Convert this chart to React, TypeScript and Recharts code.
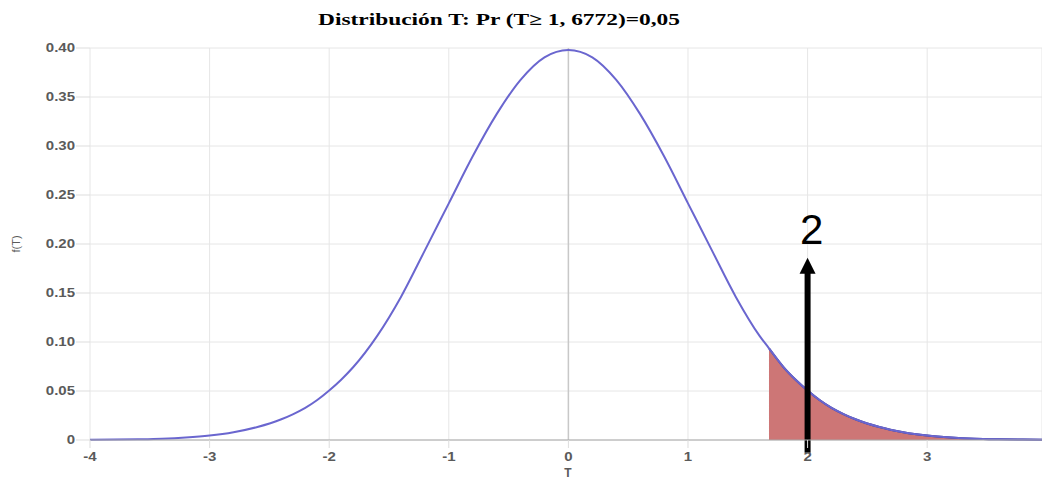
import React from "react";
import {
  ComposedChart,
  Line,
  Area,
  XAxis,
  YAxis,
  CartesianGrid,
  ReferenceLine,
} from "recharts";

const TITLE = "Distribución T: Pr (T≥ 1, 6772)=0,05";
const X_LABEL = "T";
const Y_LABEL = "f(T)";

const CUTOFF = 1.6772;
const ARROW_X = 2;
const ARROW_FROM = -0.013;
const ARROW_TO = 0.186;
const ARROW_LABEL = "2";

const T_VALUES = [
  -4.0, -3.8, -3.6, -3.4, -3.2, -3.0, -2.8, -2.6, -2.4, -2.3, -2.2, -2.1, -2.0,
  -1.9, -1.8, -1.6, -1.4, -1.2, -1.0, -0.8, -0.6, -0.4, -0.2, 0.0, 0.2, 0.4,
  0.6, 0.8, 1.0, 1.2, 1.4, 1.6, 1.6772, 1.8, 1.9, 2.0, 2.1, 2.2, 2.3, 2.4, 2.6,
  2.8, 3.0, 3.2, 3.4, 3.6, 3.8, 4.0,
];

const DENSITY = [
  0.0002, 0.0004, 0.0008, 0.0014, 0.0026, 0.0046, 0.0080, 0.0133, 0.0212,
  0.0265, 0.0328, 0.0408, 0.0505, 0.0615, 0.0742, 0.1060, 0.1460, 0.1935,
  0.2415, 0.2895, 0.3325, 0.3675, 0.3905, 0.3980, 0.3905, 0.3675, 0.3325,
  0.2895, 0.2415, 0.1935, 0.1460, 0.1060, 0.0936, 0.0742, 0.0615, 0.0505,
  0.0408, 0.0328, 0.0265, 0.0212, 0.0133, 0.0080, 0.0046, 0.0026, 0.0014,
  0.0008, 0.0004, 0.0002,
];

const X_TICKS = [-4, -3, -2, -1, 0, 1, 2, 3];
const Y_TICKS = [0, 0.05, 0.1, 0.15, 0.2, 0.25, 0.3, 0.35, 0.4];

const data = T_VALUES.map((t, i) => ({
  t,
  f: DENSITY[i],
  tail: t >= CUTOFF ? DENSITY[i] : null,
}));

const TICK_COLOR = "#5a5a5a";
const FONT = "Liberation Sans, Arial, sans-serif";

const XTick = (props: any) => {
  const { x, y, payload } = props;
  return (
    <text
      transform={`translate(${x},${y + 11}) scale(1.25,1)`}
      textAnchor="middle"
      fontSize={12}
      fontWeight="bold"
      fontFamily={FONT}
      fill={TICK_COLOR}
    >
      {String(payload.value)}
    </text>
  );
};

const YTick = (props: any) => {
  const { x, y, payload } = props;
  const v = payload.value === 0 ? "0" : Number(payload.value).toFixed(2);
  return (
    <text
      transform={`translate(${x},${y + 4}) scale(1.25,1)`}
      textAnchor="end"
      fontSize={12}
      fontWeight="bold"
      fontFamily={FONT}
      fill={TICK_COLOR}
    >
      {v}
    </text>
  );
};

const ArrowShape = (props: any) => {
  const { x1, y1, x2, y2 } = props;
  const x = x1;
  const bottom = Math.max(y1, y2);
  const tip = Math.min(y1, y2);
  return (
    <g>
      <line x1={x} y1={bottom} x2={x} y2={tip + 14} stroke="#000" strokeWidth={6} />
      <polygon
        points={`${x - 8},${tip + 16} ${x + 8},${tip + 16} ${x},${tip}`}
        fill="#000"
      />
      <text
        x={x + 4}
        y={tip - 14}
        textAnchor="middle"
        fontSize={42}
        fontFamily={FONT}
        fill="#000"
      >
        {ARROW_LABEL}
      </text>
    </g>
  );
};

export default function App() {
  return (
    <div
      style={{
        position: "absolute",
        left: 0,
        top: 0,
        width: 1042,
        height: 482,
        overflow: "hidden",
        background: "#fff",
      }}
    >
      <svg
        width={1042}
        height={40}
        style={{ position: "absolute", left: 0, top: 0 }}
      >
        <text
          x={499}
          y={25}
          textAnchor="middle"
          fontSize={17}
          fontWeight="bold"
          fontFamily="Liberation Serif, DejaVu Serif, serif"
          fill="#000"
          textLength={362}
          lengthAdjust="spacingAndGlyphs"
        >
          {TITLE}
        </text>
      </svg>
      <div style={{ position: "absolute", left: 0, top: 0 }}>
        <ComposedChart
          width={1042}
          height={482}
          data={data}
          margin={{ top: 48, right: 0, bottom: 0, left: 0 }}
        >
          <CartesianGrid stroke="#e6e6e6" strokeWidth={1} />
          <XAxis
            dataKey="t"
            type="number"
            domain={[-4, 3.96]}
            ticks={X_TICKS}
            allowDataOverflow
            height={42}
            tickSize={8}
            tickMargin={2}
            tick={XTick}
            tickLine={{ stroke: "#dddddd" }}
            axisLine={{ stroke: "#a8a8a8" }}
          />
          <YAxis
            type="number"
            domain={[0, 0.4]}
            ticks={Y_TICKS}
            width={90}
            tickSize={14}
            tickMargin={1}
            tick={YTick}
            tickLine={{ stroke: "#dddddd" }}
            axisLine={false}
          />
          <ReferenceLine x={0} stroke="#c8c8c8" strokeWidth={1.5} />
          <Line
            type="monotone"
            dataKey="f"
            stroke="#6a66cf"
            strokeWidth={2}
            dot={false}
            isAnimationActive={false}
          />
          <Area
            type="monotone"
            dataKey="tail"
            stroke="#34348c"
            strokeWidth={2}
            fill="#cd7676"
            fillOpacity={1}
            connectNulls={false}
            isAnimationActive={false}
          />
          <ReferenceLine
            segment={[
              { x: ARROW_X, y: ARROW_FROM },
              { x: ARROW_X, y: ARROW_TO },
            ]}
            ifOverflow="visible"
            shape={ArrowShape}
          />
        </ComposedChart>
      </div>
      <svg
        width={1042}
        height={482}
        style={{ position: "absolute", left: 0, top: 0, pointerEvents: "none" }}
      >
        <text
          x={568}
          y={477}
          textAnchor="middle"
          fontSize={12}
          fontWeight="bold"
          fontFamily={FONT}
          fill={TICK_COLOR}
        >
          {X_LABEL}
        </text>
        <text
          transform="translate(20,244) rotate(-90)"
          textAnchor="middle"
          fontSize={11}
          fontFamily={FONT}
          fill={TICK_COLOR}
        >
          {Y_LABEL}
        </text>
      </svg>
    </div>
  );
}
